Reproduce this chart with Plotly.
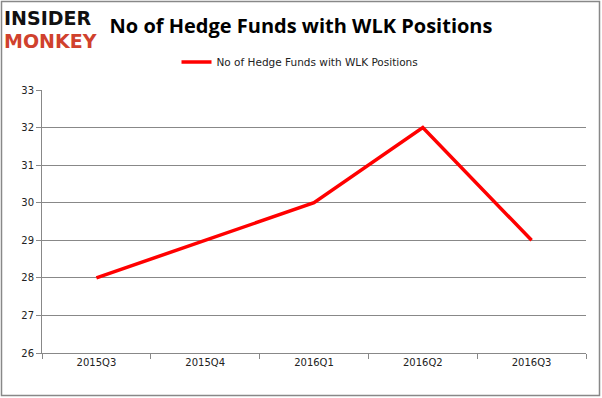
import plotly.graph_objects as go

categories = ["2015Q3", "2015Q4", "2016Q1", "2016Q2", "2016Q3"]
values = [28, 29, 30, 32, 29]
series_name = "No of Hedge Funds with WLK Positions"
title_text = "No of Hedge Funds with WLK Positions"

W, H = 602, 398
L, R, T, B = 42, 16, 90, 45
pw, ph = W - L - R, H - T - B

fig = go.Figure()
fig.add_trace(go.Scatter(
    x=categories, y=values, mode="lines", name=series_name,
    line=dict(color="#ff0000", width=3.5)))

def px2x(px):
    return (px - L) / pw

def px2y(py):
    return (H - B - py) / ph

fig.update_layout(
    width=W, height=H,
    margin=dict(l=L, r=R, t=T, b=B, autoexpand=False),
    paper_bgcolor="white", plot_bgcolor="white",
    showlegend=True,
    legend=dict(orientation="h", x=px2x(300), xanchor="center", y=px2y(62), yanchor="middle",
                font=dict(family="DejaVu Sans", size=10.5, color="#222"),
                bgcolor="rgba(0,0,0,0)"),
    title=dict(text=title_text, x=0.5, xanchor="center", y=1 - 26 / H, yanchor="middle",
               font=dict(family="Open Sans", size=20, color="#000", weight="bold")),
    xaxis=dict(type="category", showgrid=False, showline=True, linecolor="#888", linewidth=1,
               ticks="outside", tickson="boundaries", ticklen=5, tickcolor="#888",
               tickfont=dict(family="DejaVu Sans", size=10, color="#222"),
               range=[-0.5, 4.5]),
    yaxis=dict(range=[26, 33], dtick=1, showgrid=True, gridcolor="#888", gridwidth=1,
               showline=True, linecolor="#888", linewidth=1, ticks="outside", ticklen=5,
               tickcolor="#888", zeroline=False,
               tickfont=dict(family="DejaVu Sans", size=10, color="#222")),
)

fig.add_shape(type="rect", xref="paper", yref="paper",
              x0=px2x(1.5), x1=px2x(599.5), y0=px2y(395.5), y1=px2y(1.5),
              line=dict(color="#888", width=1.5), layer="above")

fig.add_annotation(text="<b>INSIDER</b>", xref="paper", yref="paper",
                   x=px2x(3), y=px2y(18), xanchor="left", yanchor="middle", showarrow=False,
                   borderpad=0,
                   font=dict(family="DejaVu Sans", size=19, color="#111"))
fig.add_annotation(text="<b>MONKEY</b>", xref="paper", yref="paper",
                   x=px2x(3), y=px2y(41), xanchor="left", yanchor="middle", showarrow=False,
                   borderpad=0,
                   font=dict(family="DejaVu Sans", size=19, color="#d0412d"))

fig.write_html("out.html", post_script="document.body.style.margin='0';",
               config={"displayModeBar": False})
